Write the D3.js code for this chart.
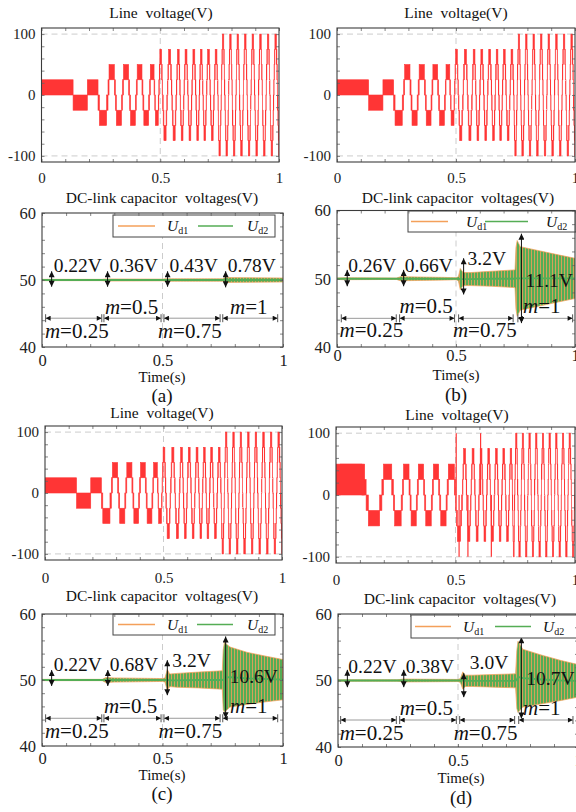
<!DOCTYPE html>
<html>
<head>
<meta charset="utf-8">
<script src="https://cdn.jsdelivr.net/npm/d3@7/dist/d3.min.js"></script>
<style>
  html, body { margin: 0; padding: 0; background: #ffffff; }
  svg { display: block; font-family: "Liberation Serif", "Times New Roman", serif; }
  .ticklab text { fill: #222; font-family: "Liberation Serif", "Times New Roman", serif; }
</style>
</head>
<body>
<svg id="fig" width="576" height="812"></svg>
<script>
// ---------------- data ----------------
const timeTicks = [0, 0.5, 1];
const timeMinor = [0, 0.1, 0.2, 0.3, 0.4, 0.5, 0.6, 0.7, 0.8, 0.9, 1];
const lineTicks = [-100, 0, 100];
const lineMinor = [-100, -80, -60, -40, -20, 0, 20, 40, 60, 80, 100];
const dcTicks = [40, 50, 60];
const dcMinor = [40, 42, 44, 46, 48, 50, 52, 54, 56, 58, 60];
const panelLetters = ["(a)", "(b)", "(c)", "(d)"];
const modValues = ["0.25", "0.5", "0.75", "1"];
const seriesNames = ["d1", "d2"];

// Line voltage of panels (a)-(c): half-cycle boundaries (s) and signed peak level of each half-cycle (V)
const lineCrossABC = [0, 0.133, 0.193, 0.238,
  0.28, 0.311, 0.341, 0.371, 0.399, 0.427, 0.455, 0.477, 0.494,
  0.51, 0.53, 0.549, 0.568, 0.584, 0.6, 0.617, 0.633, 0.65, 0.665, 0.68, 0.695, 0.711, 0.727, 0.743,
  0.757, 0.772, 0.788, 0.803, 0.819, 0.834, 0.85, 0.866, 0.882, 0.898, 0.914, 0.93, 0.946, 0.962, 0.978, 0.994, 1.01];
const linePeakABC = [25, -25, 25,
  -50, 50, -50, 50, -50, 50, -50, 50, -50,
  75, -75, 75, -75, 75, -75, 75, -75, 75, -75, 75, -75, 75, -75, 75,
  -100, 100, -100, 100, -100, 100, -100, 100, -100, 100, -100, 100, -100, 100, -100, 100, -100];

// Line voltage of panel (d)
const lineCrossD = [0, 0.126, 0.192, 0.24,
  0.278, 0.31, 0.34, 0.371, 0.403, 0.434, 0.465, 0.5,
  0.529, 0.547, 0.565, 0.582, 0.599, 0.615, 0.631, 0.647, 0.663, 0.679, 0.694, 0.71, 0.725, 0.739,
  0.748, 0.761, 0.775, 0.789, 0.803, 0.817, 0.831, 0.845, 0.859, 0.873, 0.887, 0.901, 0.915, 0.929, 0.943, 0.957, 0.971, 0.985, 0.999, 1.013];
const linePeakD = [50, -50, 50,
  -50, 50, -50, 50, -50, 50, -50, 50,
  -75, 75, -75, 75, -75, 75, -75, 75, -75, 75, -75, 75, -75, 75,
  -100, 100, -100, 100, -100, 100, -100, 100, -100, 100, -100, 100, -100, 100, -100, 100, -100, 100, -100, 100];
const lineBlockD = [[0, 0.12, 0, 50]];
const lineSpikeD = [[0.503, 100], [0.515, -100], [0.552, -100], [0.605, 100], [0.65, -100]];

// Share of a half-cycle before each 25 V step is reached, keyed by number of steps
const stepShare = { 1: [], 2: [0.14], 3: [0.12, 0.27], 4: [0.08, 0.18, 0.3] };

// DC-link capacitor ripple envelopes (V)
const envTimeA = [0, 0.25, 0.26, 0.5, 0.51, 0.75, 0.76, 1];
const envHighA = [50.1, 50.1, 50.16, 50.13, 50.18, 50.18, 50.36, 50.3];
const envLowA  = [49.9, 49.9, 49.84, 49.87, 49.82, 49.82, 49.64, 49.7];

const envTimeB = [0, 0.03, 0.25, 0.27, 0.29, 0.45, 0.5, 0.51, 0.518, 0.53, 0.56, 0.65, 0.748, 0.752, 0.757, 0.77, 0.85, 0.93, 1];
const envHighB = [50.1, 50.14, 50.1, 50.34, 50.28, 50.2, 50.14, 50.3, 51.5, 50.9, 50.9, 51.1, 51.3, 54.6, 55.6, 54.7, 54.1, 53.5, 53.0];
const envLowB  = [49.9, 49.86, 49.9, 49.66, 49.72, 49.8, 49.86, 49.7, 48.4, 49.0, 49.0, 48.9, 48.7, 45.5, 44.5, 45.4, 46.0, 46.6, 47.1];

const envTimeC = [0, 0.25, 0.265, 0.3, 0.5, 0.51, 0.52, 0.53, 0.56, 0.65, 0.748, 0.752, 0.757, 0.78, 0.85, 0.93, 1];
const envHighC = [50.1, 50.1, 50.38, 50.32, 50.22, 50.3, 51.6, 50.9, 51.0, 51.2, 51.4, 54.6, 55.7, 55.0, 54.2, 53.6, 53.1];
const envLowC  = [49.9, 49.9, 49.62, 49.68, 49.78, 49.7, 48.4, 49.0, 48.9, 48.8, 48.6, 45.5, 45.1, 45.9, 46.3, 46.7, 47.0];

const envTimeD = [0, 0.25, 0.27, 0.5, 0.51, 0.52, 0.53, 0.56, 0.65, 0.74, 0.745, 0.75, 0.77, 0.85, 0.93, 1];
const envHighD = [50.1, 50.1, 50.22, 50.16, 50.3, 51.3, 50.8, 50.8, 50.9, 51.0, 54.5, 55.9, 54.7, 53.8, 53.0, 52.4];
const envLowD  = [49.9, 49.9, 49.78, 49.84, 49.7, 48.7, 49.1, 49.1, 49.0, 48.9, 45.8, 45.2, 46.0, 46.5, 47.0, 47.5];

// Peak-to-peak ripple annotations: label, time of arrow, arrow span (V)
const rippleTextA = ["0.22V", "0.36V", "0.43V", "0.78V"];
const rippleTimeA = [0.04, 0.272, 0.521, 0.762];
const rippleLowA  = [49.0, 49.0, 49.0, 48.9];
const rippleHighA = [51.3, 51.3, 51.3, 51.3];

const rippleTextB = ["0.26V", "0.66V", "3.2V", "11.1V"];
const rippleTimeB = [0.043, 0.28, 0.532, 0.775];
const rippleLowB  = [48.9, 48.9, 47.7, 43.5];
const rippleHighB = [51.3, 51.3, 53.0, 56.6];

const rippleTextC = ["0.22V", "0.68V", "3.2V", "10.6V"];
const rippleTimeC = [0.04, 0.273, 0.52, 0.762];
const rippleLowC  = [49.1, 49.1, 47.7, 44.2];
const rippleHighC = [51.5, 51.5, 53.0, 56.6];

const rippleTextD = ["0.22V", "0.38V", "3.0V", "10.7V"];
const rippleTimeD = [0.039, 0.274, 0.524, 0.764];
const rippleLowD  = [49.0, 49.0, 47.5, 44.3];
const rippleHighD = [51.6, 51.6, 51.1, 56.5];

// ---------------- layout ----------------
const RED = "#ff3535", ORANGE = "#f4a05a", GREEN = "#55ad55";
const FRAME = "#3c3c3c", TICK = "#666", GRID = "#cccccc", DIM = "#9a9a9a";

const linePanels = [
  { x0: 41.5, x1: 279, y0: 28, y1: 162, titleX: 161, titleY: 18, labY: 183, fs: 15,
    cross: lineCrossABC, peak: linePeakABC },
  { x0: 337, x1: 575, y0: 28, y1: 162, titleX: 456, titleY: 18, labY: 183, fs: 15,
    cross: lineCrossABC, peak: linePeakABC },
  { x0: 45, x1: 282, y0: 426, y1: 560, titleX: 162, titleY: 418, labY: 583, fs: 15,
    cross: lineCrossABC, peak: linePeakABC },
  { x0: 336, x1: 575, y0: 427, y1: 563, titleX: 457, titleY: 420, labY: 585, fs: 15,
    cross: lineCrossD, peak: linePeakD, blocks: lineBlockD, spikes: lineSpikeD }
];

const dcPanels = [
  { x0: 42, x1: 283, y0: 213, y1: 347, titleX: 162, titleY: 203, labY: 366, timeY: 382, letterX: 162, letterY: 402, fs: 16.5,
    legend: { x: 113, y: 215, w: 162, h: 22, l1: [118, 155], t1: 167, l2: [198, 233], t2: 247 },
    env: [envTimeA, envHighA, envLowA], rip: [rippleTextA, rippleTimeA, rippleLowA, rippleHighA],
    ripLab: [51.2, 51.2, 51.2, 51.2], ripDx: [2, 2, 2, 2],
    dims: [[0.015, 0.248], [0.257, 0.494], [0.506, 0.739], [0.75, 0.978]], dimV: 44.3,
    modX: [0.012, 0.261, 0.481, 0.78], modV: [41.3, 45.0, 41.3, 45.0] },
  { x0: 337, x1: 575, y0: 210.5, y1: 347, titleX: 458, titleY: 203, labY: 361, timeY: 380, letterX: 456, letterY: 401, fs: 16.5,
    legend: { x: 408, y: 211, w: 168, h: 21, l1: [411, 448], t1: 466, l2: [485, 528], t2: 546 },
    env: [envTimeB, envHighB, envLowB], rip: [rippleTextB, rippleTimeB, rippleLowB, rippleHighB],
    ripLab: [51.0, 51.0, 52.0, 48.8], ripDx: [1, 1, 4, 4],
    dims: [[0.018, 0.249], [0.263, 0.494], [0.511, 0.74], [0.76, 0.99]], dimV: 44.2,
    modX: [0.011, 0.263, 0.487, 0.782], modV: [41.5, 44.95, 41.5, 44.95] },
  { x0: 42, x1: 283, y0: 614, y1: 746, titleX: 162, titleY: 601, labY: 764, timeY: 780, letterX: 162, letterY: 800, fs: 16.5,
    legend: { x: 113, y: 614, w: 162, h: 21, l1: [118, 155], t1: 167, l2: [197, 233], t2: 247 },
    env: [envTimeC, envHighC, envLowC], rip: [rippleTextC, rippleTimeC, rippleLowC, rippleHighC],
    ripLab: [51.3, 51.3, 52.0, 49.5], ripDx: [2, 2, 5, 4],
    dims: [[0.015, 0.248], [0.257, 0.494], [0.506, 0.739], [0.75, 0.978]], dimV: 44.2,
    modX: [0.012, 0.257, 0.483, 0.78], modV: [41.2, 44.95, 41.2, 44.95] },
  { x0: 338, x1: 578, y0: 614, y1: 747, titleX: 460, titleY: 604, labY: 766, timeY: 783, letterX: 461, letterY: 804, fs: 16.5,
    legend: { x: 411, y: 615, w: 170, h: 23, l1: [415, 451], t1: 463, l2: [495, 531], t2: 543 },
    env: [envTimeD, envHighD, envLowD], rip: [rippleTextD, rippleTimeD, rippleLowD, rippleHighD],
    ripLab: [51.2, 51.2, 51.8, 49.3], ripDx: [1, 2, 6, 5],
    dims: [[0.011, 0.243], [0.257, 0.493], [0.507, 0.736], [0.753, 0.979]], dimV: 44.06,
    modX: [0.007, 0.257, 0.482, 0.771], modV: [41.05, 44.8, 41.05, 44.8] }
];

// ---------------- drawing ----------------
const svg = d3.select("#fig");
const defs = svg.append("defs");

// striped fill: the two antiphase capacitor voltages overlapping
const pat = defs.append("pattern").attr("id", "ripple")
  .attr("patternUnits", "userSpaceOnUse").attr("width", 3).attr("height", 10);
pat.append("rect").attr("width", 3).attr("height", 10).attr("fill", GREEN);
pat.append("rect").attr("width", 0.8).attr("height", 10).attr("fill", ORANGE);

function addMarker(id, w, h) {
  defs.append("marker").attr("id", id)
    .attr("viewBox", "0 0 10 10").attr("refX", 10).attr("refY", 5)
    .attr("markerUnits", "userSpaceOnUse").attr("markerWidth", w).attr("markerHeight", h)
    .attr("orient", "auto-start-reverse")
    .append("path").attr("d", "M0,0 L10,5 L0,10 z").attr("fill", "#111");
}
addMarker("arrV", 7, 6);
addMarker("arrH", 6, 5);

let clipId = 0;
function clipFor(p) {
  const id = "clip" + (clipId++);
  defs.append("clipPath").attr("id", id).append("rect")
    .attr("x", p.x0).attr("y", p.y0).attr("width", p.x1 - p.x0).attr("height", p.y1 - p.y0);
  return "url(#" + id + ")";
}

function gridLines(g, p, x, y, gridY) {
  g.append("line").attr("x1", x(0.5)).attr("x2", x(0.5)).attr("y1", p.y0).attr("y2", p.y1)
    .attr("stroke", GRID).attr("stroke-dasharray", "6,4").attr("stroke-width", 1);
  gridY.forEach(v => g.append("line").attr("x1", p.x0).attr("x2", p.x1).attr("y1", y(v)).attr("y2", y(v))
    .attr("stroke", GRID).attr("stroke-dasharray", "6,4").attr("stroke-width", 1));
}

function ticksAndLabels(g, p, x, y, yMajor, yMinor) {
  const minorAxes = [
    [d3.axisBottom(x).tickValues(timeMinor), `translate(0,${p.y1})`],
    [d3.axisTop(x).tickValues(timeMinor), `translate(0,${p.y0})`],
    [d3.axisLeft(y).tickValues(yMinor), `translate(${p.x0},0)`],
    [d3.axisRight(y).tickValues(yMinor), `translate(${p.x1},0)`]
  ];
  minorAxes.forEach(([ax, tr]) => {
    const a = g.append("g").attr("transform", tr)
      .call(ax.tickSizeInner(-3).tickSizeOuter(0).tickFormat(""));
    a.select(".domain").remove();
    a.selectAll("line").attr("stroke", TICK).attr("stroke-width", 0.8);
  });
  g.append("rect").attr("x", p.x0).attr("y", p.y0).attr("width", p.x1 - p.x0).attr("height", p.y1 - p.y0)
    .attr("fill", "none").attr("stroke", FRAME).attr("stroke-width", 1.1);

  const xl = g.append("g").attr("class", "ticklab").attr("transform", `translate(0,${p.y1})`)
    .call(d3.axisBottom(x).tickValues(timeTicks).tickSize(0).tickFormat(d => String(d)));
  xl.select(".domain").remove();
  xl.selectAll("text").attr("y", p.labY - p.y1).attr("dy", null)
    .style("font-size", p.fs + "px").attr("fill", "#222");

  const yl = g.append("g").attr("class", "ticklab").attr("transform", `translate(${p.x0},0)`)
    .call(d3.axisLeft(y).tickValues(yMajor).tickSize(0).tickPadding(6).tickFormat(d => String(d)));
  yl.select(".domain").remove();
  yl.selectAll("text").style("font-size", p.fs + "px").attr("fill", "#222");
}

function title(g, x, yb, text) {
  g.append("text").attr("x", x).attr("y", yb).attr("text-anchor", "middle")
    .style("white-space", "pre").style("font-size", "15.5px").attr("fill", "#111").text(text);
}

// PWM level bands of every half-cycle
function levelBands(cross, peak) {
  const out = [];
  peak.forEach((pk, i) => {
    const a = cross[i], b = cross[i + 1], h = b - a;
    const s = Math.sign(pk), n = Math.round(Math.abs(pk) / 25);
    const e = [0].concat(stepShare[n]);
    for (let k = 0; k < n; k++) {
      const lo = s * 25 * k, hi = s * 25 * (k + 1);
      if (k === n - 1) out.push([a + e[k] * h, b - e[k] * h, lo, hi]);
      else {
        out.push([a + e[k] * h, a + e[k + 1] * h, lo, hi]);
        out.push([b - e[k + 1] * h, b - e[k] * h, lo, hi]);
      }
    }
  });
  return out;
}

function drawLinePanel(p) {
  const g = svg.append("g");
  const x = d3.scaleLinear().domain([0, 1]).range([p.x0, p.x1]);
  const y = d3.scaleLinear().domain([-110, 110]).range([p.y1, p.y0]);
  gridLines(g, p, x, y, [-100, 100]);
  const plot = g.append("g").attr("clip-path", clipFor(p));
  const bands = levelBands(p.cross, p.peak).concat(p.blocks || []);
  plot.selectAll("rect.band").data(bands).join("rect").attr("class", "band")
    .attr("x", d => x(d[0])).attr("width", d => Math.max(0, x(d[1]) - x(d[0])))
    .attr("y", d => y(Math.max(d[2], d[3]))).attr("height", d => Math.abs(y(d[2]) - y(d[3])))
    .attr("fill", RED).attr("stroke", RED).attr("stroke-width", 0.6);
  plot.selectAll("line.spike").data(p.spikes || []).join("line").attr("class", "spike")
    .attr("x1", d => x(d[0])).attr("x2", d => x(d[0])).attr("y1", y(0)).attr("y2", d => y(d[1]))
    .attr("stroke", RED).attr("stroke-width", 1.2);
  ticksAndLabels(g, p, x, y, lineTicks, lineMinor);
  title(g, p.titleX, p.titleY, "Line  voltage(V)");
}

function drawDCPanel(p, idx) {
  const g = svg.append("g");
  const x = d3.scaleLinear().domain([0, 1]).range([p.x0, p.x1]);
  const y = d3.scaleLinear().domain([40, 60]).range([p.y1, p.y0]);
  gridLines(g, p, x, y, []);

  const plot = g.append("g").attr("clip-path", clipFor(p));
  const [tt, hh, ll] = p.env;
  const rows = tt.map((t, i) => ({ t, hi: hh[i], lo: ll[i] }));
  plot.append("path").datum(rows)
    .attr("d", d3.area().x(d => x(d.t)).y0(d => y(d.lo)).y1(d => y(d.hi)))
    .attr("fill", "url(#ripple)").attr("stroke", ORANGE).attr("stroke-width", 0.7);
  plot.append("path").datum(rows)
    .attr("d", d3.line().x(d => x(d.t)).y(d => y((d.hi + d.lo) / 2)))
    .attr("fill", "none").attr("stroke", GREEN).attr("stroke-width", 1.8);

  // dimension lines for the modulation-index intervals
  const dimY = y(p.dimV);
  p.dims.forEach(([a, b]) => {
    g.append("line").attr("x1", x(a)).attr("x2", x(b)).attr("y1", dimY).attr("y2", dimY)
      .attr("stroke", DIM).attr("stroke-width", 1)
      .attr("marker-start", "url(#arrH)").attr("marker-end", "url(#arrH)");
    [a, b].forEach(t => g.append("line").attr("x1", x(t)).attr("x2", x(t))
      .attr("y1", dimY - 4).attr("y2", dimY + 4).attr("stroke", "#555").attr("stroke-width", 1));
  });
  modValues.forEach((m, i) => {
    const t = g.append("text").attr("x", x(p.modX[i])).attr("y", y(p.modV[i]))
      .style("font-size", "21px").attr("fill", "#111");
    t.append("tspan").style("font-style", "italic").text("m");
    t.append("tspan").text("=" + m);
  });

  // peak-to-peak ripple arrows and values
  const [txt, rt, rl, rh] = p.rip;
  txt.forEach((s, i) => {
    g.append("line").attr("x1", x(rt[i])).attr("x2", x(rt[i])).attr("y1", y(rl[i])).attr("y2", y(rh[i]))
      .attr("stroke", "#111").attr("stroke-width", 1)
      .attr("marker-start", "url(#arrV)").attr("marker-end", "url(#arrV)");
    g.append("text").attr("x", x(rt[i]) + p.ripDx[i]).attr("y", y(p.ripLab[i]))
      .style("font-size", "19.5px").attr("fill", "#111").text(s);
  });

  // legend
  const L = p.legend, ly = L.y + L.h / 2;
  g.append("rect").attr("x", L.x).attr("y", L.y).attr("width", L.w).attr("height", L.h)
    .attr("fill", "#fff").attr("stroke", "#444").attr("stroke-width", 1);
  [[L.l1, L.t1, ORANGE, seriesNames[0]], [L.l2, L.t2, GREEN, seriesNames[1]]].forEach(([ln, tx, c, sub]) => {
    g.append("line").attr("x1", ln[0]).attr("x2", ln[1]).attr("y1", ly).attr("y2", ly)
      .attr("stroke", c).attr("stroke-width", 1.6);
    const t = g.append("text").attr("x", tx).attr("y", ly + 5).attr("fill", "#111");
    t.append("tspan").style("font-style", "italic").style("font-size", "15.5px").text("U");
    t.append("tspan").attr("dy", 3).style("font-size", "10px").text(sub);
  });

  ticksAndLabels(g, p, x, y, dcTicks, dcMinor);
  title(g, p.titleX, p.titleY, "DC-link capacitor  voltages(V)");
  g.append("text").attr("x", p.letterX).attr("y", p.timeY)
    .attr("text-anchor", "middle").style("font-size", "15px").attr("fill", "#111").text("Time(s)");
  g.append("text").attr("x", p.letterX).attr("y", p.letterY).attr("text-anchor", "middle")
    .style("font-size", "19px").attr("fill", "#111").text(panelLetters[idx]);
}

linePanels.forEach(drawLinePanel);
dcPanels.forEach(drawDCPanel);
</script>
</body>
</html>
